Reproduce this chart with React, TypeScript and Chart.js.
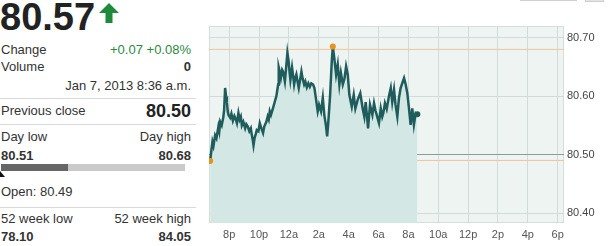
import React, { useEffect, useRef } from "react";
import { Chart, registerables } from "chart.js";
Chart.register(...registerables);

// hours since midnight Jan 6 (24 = 12a Jan 7)
const times = [
  18.73, 18.8, 18.88, 18.95, 19.06, 19.15, 19.28, 19.34, 19.4, 19.5, 19.6, 19.66, 19.73, 19.79, 19.85, 19.9, 19.95,
  20.07, 20.15, 20.25, 20.35, 20.45, 20.52, 20.62, 20.7, 20.78, 20.85, 20.95, 21.07, 21.15, 21.25, 21.35, 21.45,
  21.52, 21.58, 21.63, 21.7, 21.78, 21.85, 21.96, 22.05, 22.16, 22.27, 22.35, 22.49, 22.58, 22.65, 22.72, 22.8,
  22.94, 23.05, 23.16, 23.28, 23.32, 23.4, 23.46, 23.55, 23.61, 23.73, 23.82, 23.9, 23.98, 24.05, 24.1, 24.21,
  24.28, 24.35, 24.42, 24.5, 24.58, 24.66, 24.75, 24.84, 24.92, 25.02, 25.1, 25.2, 25.3, 25.4, 25.5, 25.62, 25.71,
  25.82, 25.93, 26.02, 26.15, 26.27, 26.37, 26.49, 26.56, 26.64, 26.76, 26.87, 26.94, 27.04, 27.16, 27.27, 27.38,
  27.48, 27.61, 27.72, 27.83, 27.94, 28.05, 28.21, 28.34, 28.45, 28.61, 28.78, 28.94, 29.05, 29.14, 29.22, 29.3,
  29.43, 29.59, 29.7, 29.8, 29.88, 30.03, 30.15, 30.25, 30.32, 30.43, 30.55, 30.7, 30.82, 30.92, 31.04, 31.14,
  31.26, 31.37, 31.48, 31.59, 31.71, 31.82, 31.93, 32.04, 32.15, 32.26, 32.37, 32.49, 32.6,
];
const prices = [
  80.489, 80.505, 80.522, 80.515, 80.533, 80.528, 80.548, 80.54, 80.556, 80.55, 80.563, 80.575, 80.614, 80.6, 80.59, 80.575, 80.568,
  80.563, 80.57, 80.558, 80.566, 80.56, 80.554, 80.571, 80.56, 80.565, 80.55, 80.556, 80.545, 80.552, 80.548, 80.54, 80.545,
  80.533, 80.525, 80.516, 80.528, 80.535, 80.542, 80.54, 80.554, 80.545, 80.537, 80.548, 80.556, 80.565, 80.56, 80.574, 80.568,
  80.58, 80.59, 80.6, 80.62, 80.649, 80.64, 80.631, 80.645, 80.642, 80.625, 80.65, 80.674, 80.66, 80.64, 80.628, 80.649,
  80.635, 80.62, 80.63, 80.637, 80.625, 80.614, 80.628, 80.642, 80.63, 80.62, 80.625, 80.615, 80.622, 80.616, 80.622, 80.62, 80.614,
  80.594, 80.574, 80.585, 80.574, 80.597, 80.568, 80.548, 80.531, 80.556, 80.602, 80.659, 80.685, 80.665, 80.637, 80.654, 80.62,
  80.64, 80.62, 80.63, 80.651, 80.637, 80.602, 80.582, 80.602, 80.579, 80.594, 80.605, 80.579, 80.565, 80.59, 80.568, 80.545,
  80.585, 80.568, 80.588, 80.575, 80.568, 80.554, 80.579, 80.565, 80.571, 80.588, 80.578, 80.6, 80.614, 80.59, 80.611, 80.585,
  80.565, 80.597, 80.614, 80.622, 80.631, 80.62, 80.605, 80.579, 80.551, 80.579, 80.551, 80.571, 80.569,
];
const xTicks = [20, 22, 24, 26, 28, 30, 32, 34, 36, 38, 40, 42];
const yTicks = [80.4, 80.5, 80.6, 80.7];
const xMin = 18.65;
const xMax = 42.42;
const yMin = 80.383;
const yMax = 80.72;
const prevClose = 80.5;
const dayHigh = 80.68;
const openPrice = 80.49;
const markers = [
  { x: 18.73, y: 80.489 },
  { x: 26.94, y: 80.685 },
];

const hourLabel = (h: number) => {
  const m = ((h % 24) + 24) % 24;
  if (m === 0) return "12a";
  if (m < 12) return m + "a";
  if (m === 12) return "12p";
  return m - 12 + "p";
};

const bgPlugin = {
  id: "plotBg",
  beforeDraw(chart: any) {
    const { ctx, chartArea: a } = chart;
    ctx.save();
    ctx.fillStyle = "#edf4f1";
    ctx.fillRect(a.left, a.top, a.right - a.left, a.bottom - a.top);
    ctx.strokeStyle = "#d6dedb";
    ctx.lineWidth = 1;
    ctx.strokeRect(a.left + 0.5, a.top + 0.5, a.right - a.left - 1, a.bottom - a.top - 1);
    ctx.restore();
  },
};

function PriceChart() {
  const ref = useRef<HTMLCanvasElement>(null);
  useEffect(() => {
    if (!ref.current) return;
    const lineData = times.map((t, i) => ({ x: t, y: prices[i] }));
    const chart = new Chart(ref.current, {
      type: "line",
      data: {
        datasets: [
          {
            data: markers,
            borderColor: "rgba(0,0,0,0)",
            showLine: false,
            pointRadius: 3,
            pointBackgroundColor: "#e8921f",
            pointBorderWidth: 0,
          } as any,
          {
            data: lineData,
            borderColor: "#1f5c5c",
            borderWidth: 2.5,
            backgroundColor: "#d3e8e4",
            fill: "start",
            tension: 0,
            pointRadius: lineData.map((_, i) => (i === lineData.length - 1 ? 3 : 0)),
            pointBackgroundColor: "#1f5c5c",
            pointBorderWidth: 0,
          },
          {
            data: [
              { x: xMin, y: dayHigh },
              { x: xMax, y: dayHigh },
            ],
            borderColor: "#f3c39a",
            borderWidth: 1,
            pointRadius: 0,
            fill: false,
          },
          {
            data: [
              { x: xMin, y: openPrice },
              { x: xMax, y: openPrice },
            ],
            borderColor: "#f3c39a",
            borderWidth: 1,
            pointRadius: 0,
            fill: false,
          },
        ],
      },
      options: {
        animation: false,
        responsive: false,
        maintainAspectRatio: false,
        layout: { padding: { top: 26, left: 9, right: 0, bottom: 0 } },
        plugins: { legend: { display: false }, tooltip: { enabled: false } },
        scales: {
          x: {
            type: "linear",
            min: xMin,
            max: xMax,
            afterBuildTicks: (s: any) => {
              s.ticks = xTicks.map((v) => ({ value: v }));
            },
            afterFit: (s: any) => {
              s.height = 23;
            },
            grid: { color: "#d3dbd8", drawTicks: false },
            border: { display: false },
            ticks: {
              padding: 5,
              color: "#555",
              font: { family: "'Liberation Sans', Arial, sans-serif", size: 11 },
              callback: (v: any) => hourLabel(Number(v)),
              maxRotation: 0,
              autoSkip: false,
            },
          },
          y: {
            type: "linear",
            position: "right",
            min: yMin,
            max: yMax,
            afterBuildTicks: (s: any) => {
              s.ticks = yTicks.map((v) => ({ value: v }));
            },
            afterFit: (s: any) => {
              s.width = 48;
            },
            grid: {
              drawTicks: false,
              color: (c: any) => (c.tick && Math.abs(c.tick.value - prevClose) < 1e-6 ? "#8e9c99" : "#d3dbd8"),
            },
            border: { display: false },
            ticks: {
              padding: 3,
              color: "#444",
              font: { family: "'Liberation Sans', Arial, sans-serif", size: 11 },
              callback: (v: any) => Number(v).toFixed(2),
            },
          },
        },
      },
      plugins: [bgPlugin],
    });
    return () => chart.destroy();
  }, []);
  return <canvas ref={ref} width={412} height={246} style={{ display: "block", width: 412, height: 246 }} />;
}

const F = "'Liberation Sans', Arial, Helvetica, sans-serif";

function T(props: { x?: number; r?: number; base: number; size: number; bold?: boolean; color?: string; children: any }) {
  const { x, r, base, size, bold, color, children } = props;
  const style: any = {
    position: "absolute",
    top: base - 0.847 * size,
    fontSize: size,
    lineHeight: size + "px",
    fontFamily: F,
    fontWeight: bold ? 700 : 400,
    color: color || "#333",
    whiteSpace: "nowrap",
  };
  if (r !== undefined) style.right = 612 - r;
  else style.left = x;
  return <div style={style}>{children}</div>;
}

export default function App() {
  return (
    <div style={{ position: "absolute", left: 0, top: 0, width: 612, height: 246, background: "#fff", overflow: "hidden" }}>
      {/* left panel */}
      <T x={0} base={30} size={38} bold color="#222">80.57</T>
      <svg style={{ position: "absolute", left: 98, top: 1 }} width={22} height={24}>
        <polygon points="1,12 11,2 21,12 14.5,12 14.5,22 7.5,22 7.5,12" fill="#1f8a3b" />
      </svg>
      <T x={1} base={54.5} size={13}>Change</T>
      <T r={191} base={54.5} size={13} color="#2b8a3e">+0.07 +0.08%</T>
      <T x={1} base={71.5} size={13}>Volume</T>
      <T r={191} base={71.5} size={13} bold>0</T>
      <T r={191} base={90.5} size={13}>Jan 7, 2013 8:36 a.m.</T>
      <div style={{ position: "absolute", left: 0, top: 98, width: 196, height: 1, background: "#d9d9d9" }} />
      <T x={1} base={115} size={13}>Previous close</T>
      <T r={191} base={117.5} size={18} bold color="#222">80.50</T>
      <div style={{ position: "absolute", left: 0, top: 124, width: 196, height: 1, background: "#d9d9d9" }} />
      <T x={1} base={141} size={13}>Day low</T>
      <T r={191} base={141} size={13}>Day high</T>
      <T x={1} base={160} size={13} bold>80.51</T>
      <T r={191} base={160} size={13} bold>80.68</T>
      <div style={{ position: "absolute", left: 1, top: 164, width: 67, height: 7, background: "#666" }} />
      <div style={{ position: "absolute", left: 68, top: 164, width: 117, height: 7, background: "#cacaca" }} />
      <svg style={{ position: "absolute", left: 0, top: 171 }} width={8} height={7}>
        <polygon points="0,0 5,6 0,6" fill="#111" />
      </svg>
      <T x={1} base={196} size={13}>Open: 80.49</T>
      <div style={{ position: "absolute", left: 0, top: 207, width: 196, height: 1, background: "#d9d9d9" }} />
      <T x={1} base={223.5} size={13}>52 week low</T>
      <T r={191} base={223.5} size={13}>52 week high</T>
      <T x={1} base={241.5} size={13} bold>78.10</T>
      <T r={191} base={241.5} size={13} bold>84.05</T>
      {/* clipped controls at top */}
      <div style={{ position: "absolute", left: 520, top: -10, width: 57, height: 11, border: "1px solid #cfcfcf", boxSizing: "border-box" }} />
      <div style={{ position: "absolute", left: 585, top: -10, width: 19, height: 12, background: "#e4e4e4", border: "1px solid #cfcfcf", boxSizing: "border-box" }} />
      {/* chart */}
      <div style={{ position: "absolute", left: 200, top: 0, width: 412, height: 246 }}>
        <PriceChart />
      </div>
    </div>
  );
}
